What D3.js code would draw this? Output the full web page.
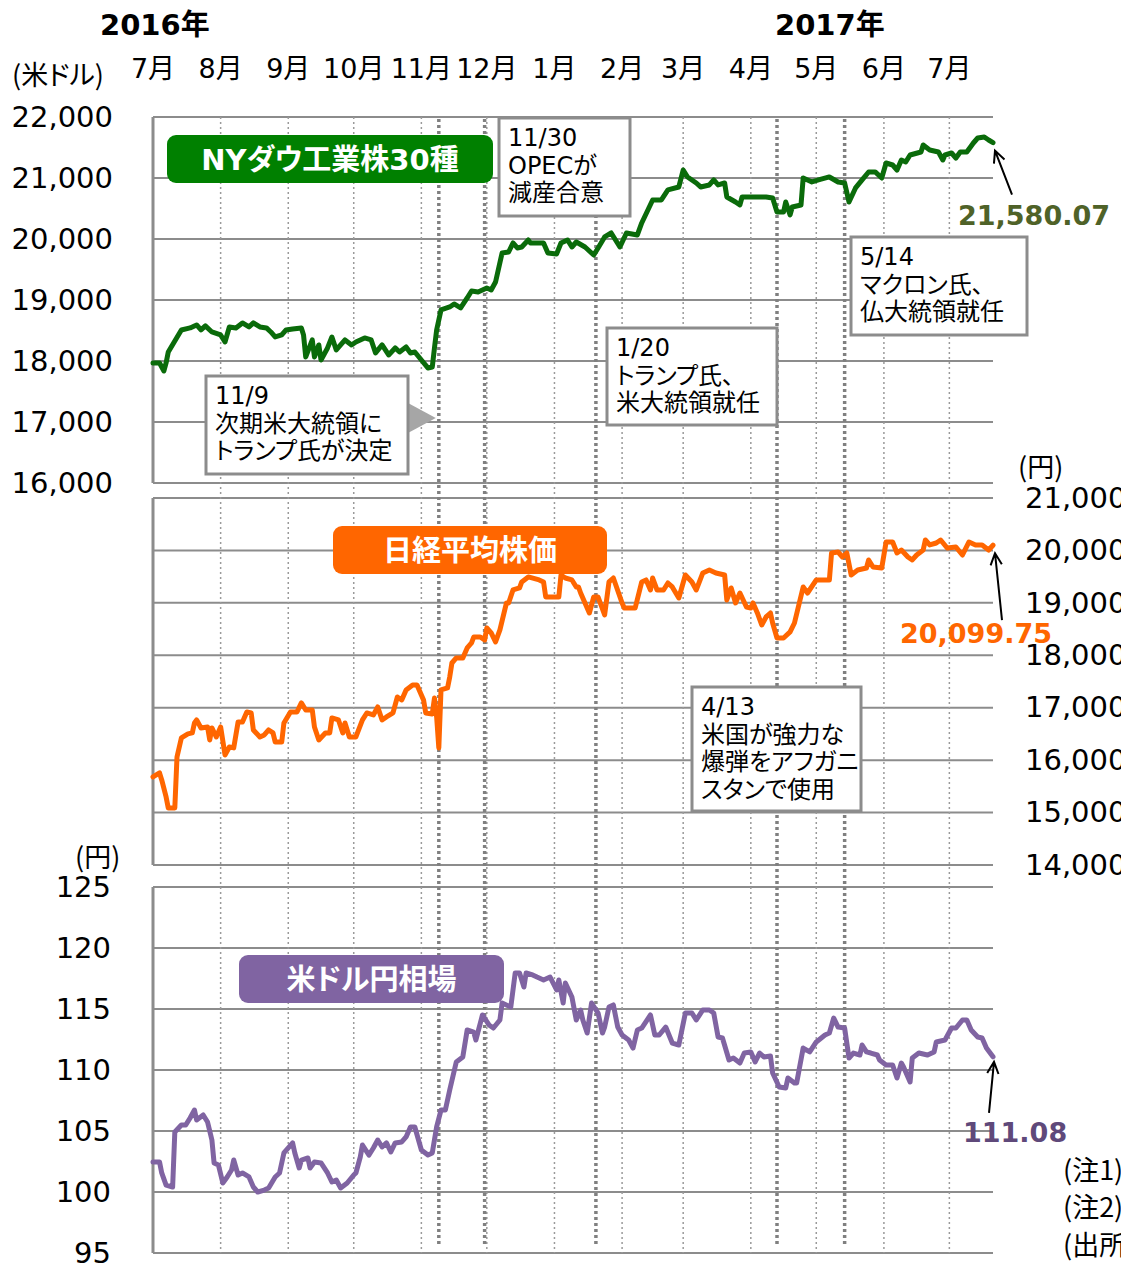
<!DOCTYPE html>
<html lang="ja">
<head>
<meta charset="utf-8" />
<title>NYダウ・日経平均・米ドル円</title>
<script src="https://d3js.org/d3.v7.min.js"></script>
<style>
  body { margin: 0; background: #fff; }
  svg text { font-family: "DejaVu Sans", "Noto Sans CJK JP", sans-serif; font-feature-settings: "palt"; }
  svg text.jp { font-family: "Noto Sans CJK JP", sans-serif; }
</style>
</head>
<body>
<script>
// month ticks on the shared time axis
const monthTicks = ["2016-07-01","2016-08-01","2016-09-01","2016-10-01","2016-11-01","2016-12-01",
  "2017-01-01","2017-02-01","2017-03-01","2017-04-01","2017-05-01","2017-06-01","2017-07-01"];
const monthLabels = ["7月","8月","9月","10月","11月","12月","1月","2月","3月","4月","5月","6月","7月"];
const yearLabels = ["2016年", "2017年"];
const eventDates = ["2016-11-09","2016-11-30","2017-01-20","2017-04-13","2017-05-14"];

const dowTicks = [16000,17000,18000,19000,20000,21000,22000];
const nikkeiTicks = [14000,15000,16000,17000,18000,19000,20000,21000];
const yenTicks = [95,100,105,110,115,120,125];

// NYダウ (米ドル)
const dowSeries = [["2016-07-01",17968],["2016-07-04",17968],["2016-07-06",17837],["2016-07-07",17968],["2016-07-08",18148],["2016-07-14",18509],["2016-07-18",18542],["2016-07-21",18591],["2016-07-23",18509],["2016-07-25",18575],["2016-07-28",18476],["2016-08-01",18427],["2016-08-03",18312],["2016-08-05",18558],["2016-08-08",18542],["2016-08-11",18624],["2016-08-14",18558],["2016-08-16",18624],["2016-08-19",18558],["2016-08-22",18542],["2016-08-24",18476],["2016-08-26",18394],["2016-08-29",18427],["2016-08-31",18509],["2016-09-03",18525],["2016-09-07",18542],["2016-09-08",18427],["2016-09-09",18066],["2016-09-12",18345],["2016-09-13",18066],["2016-09-15",18263],["2016-09-16",18017],["2016-09-19",18214],["2016-09-21",18394],["2016-09-23",18181],["2016-09-27",18345],["2016-09-30",18263],["2016-10-02",18312],["2016-10-06",18378],["2016-10-09",18345],["2016-10-11",18132],["2016-10-14",18263],["2016-10-17",18099],["2016-10-20",18214],["2016-10-22",18148],["2016-10-25",18230],["2016-10-27",18132],["2016-10-29",18148],["2016-11-01",18017],["2016-11-04",17886],["2016-11-06",17902],["2016-11-07",18214],["2016-11-08",18509],["2016-11-10",18837],["2016-11-14",18886],["2016-11-16",18935],["2016-11-19",18869],["2016-11-22",19033],["2016-11-24",19148],["2016-11-27",19132],["2016-12-01",19197],["2016-12-03",19165],["2016-12-05",19296],["2016-12-08",19771],["2016-12-11",19787],["2016-12-13",19935],["2016-12-15",19853],["2016-12-17",19869],["2016-12-20",19984],["2016-12-21",19935],["2016-12-27",19935],["2016-12-29",19771],["2017-01-02",19755],["2017-01-04",19935],["2017-01-07",19984],["2017-01-09",19869],["2017-01-11",19951],["2017-01-15",19869],["2017-01-19",19738],["2017-01-21",19853],["2017-01-24",20033],["2017-01-27",20099],["2017-01-31",19869],["2017-02-03",20099],["2017-02-08",20066],["2017-02-10",20263],["2017-02-15",20640],["2017-02-19",20640],["2017-02-22",20804],["2017-02-27",20853],["2017-03-01",21131],["2017-03-03",21017],["2017-03-07",20918],["2017-03-09",20853],["2017-03-13",20886],["2017-03-15",20968],["2017-03-17",20886],["2017-03-20",20918],["2017-03-21",20689],["2017-03-25",20607],["2017-03-27",20558],["2017-03-28",20689],["2017-04-02",20689],["2017-04-08",20689],["2017-04-11",20672],["2017-04-13",20443],["2017-04-16",20443],["2017-04-17",20607],["2017-04-19",20394],["2017-04-20",20525],["2017-04-24",20558],["2017-04-25",21000],["2017-04-29",20935],["2017-05-02",20968],["2017-05-07",21017],["2017-05-11",20935],["2017-05-14",20918],["2017-05-16",20607],["2017-05-19",20837],["2017-05-22",20968],["2017-05-25",21099],["2017-05-28",21099],["2017-05-31",21000],["2017-06-02",21246],["2017-06-05",21213],["2017-06-07",21131],["2017-06-09",21295],["2017-06-11",21262],["2017-06-13",21377],["2017-06-18",21426],["2017-06-19",21541],["2017-06-22",21459],["2017-06-26",21426],["2017-06-28",21295],["2017-06-29",21377],["2017-07-02",21410],["2017-07-04",21328],["2017-07-06",21426],["2017-07-09",21426],["2017-07-12",21574],["2017-07-14",21656],["2017-07-17",21672],["2017-07-19",21623],["2017-07-21",21580.07]];

// 日経平均株価 (円)
const nikkeiSeries = [["2016-07-01",15679],["2016-07-04",15756],["2016-07-05",15622],["2016-07-07",15298],["2016-07-08",15088],["2016-07-11",15088],["2016-07-12",16061],["2016-07-14",16423],["2016-07-17",16500],["2016-07-19",16519],["2016-07-20",16709],["2016-07-21",16767],["2016-07-23",16614],["2016-07-26",16633],["2016-07-27",16385],["2016-07-28",16614],["2016-07-30",16442],["2016-08-01",16633],["2016-08-03",16099],["2016-08-05",16252],["2016-08-07",16233],["2016-08-09",16728],["2016-08-11",16728],["2016-08-13",16919],["2016-08-15",16900],["2016-08-16",16576],["2016-08-19",16442],["2016-08-21",16480],["2016-08-23",16576],["2016-08-25",16519],["2016-08-26",16347],["2016-08-29",16347],["2016-08-30",16709],["2016-09-02",16919],["2016-09-05",16919],["2016-09-07",17091],["2016-09-09",16957],["2016-09-12",16957],["2016-09-13",16633],["2016-09-15",16385],["2016-09-18",16519],["2016-09-20",16519],["2016-09-21",16805],["2016-09-24",16767],["2016-09-26",16519],["2016-09-27",16709],["2016-09-29",16442],["2016-10-02",16442],["2016-10-05",16767],["2016-10-07",16900],["2016-10-10",16862],["2016-10-12",17014],["2016-10-14",16767],["2016-10-16",16824],["2016-10-19",16900],["2016-10-21",17205],["2016-10-23",17148],["2016-10-25",17339],["2016-10-28",17434],["2016-10-30",17434],["2016-11-02",17148],["2016-11-03",16900],["2016-11-06",16881],["2016-11-07",17186],["2016-11-08",16824],["2016-11-09",16233],["2016-11-10",17339],["2016-11-13",17377],["2016-11-14",17587],["2016-11-15",17853],["2016-11-17",17949],["2016-11-20",17949],["2016-11-22",18140],["2016-11-24",18235],["2016-11-25",18349],["2016-11-28",18349],["2016-11-30",18292],["2016-12-01",18521],["2016-12-03",18426],["2016-12-05",18254],["2016-12-07",18483],["2016-12-10",18998],["2016-12-11",18998],["2016-12-13",19246],["2016-12-16",19284],["2016-12-17",19399],["2016-12-20",19494],["2016-12-25",19437],["2016-12-27",19399],["2016-12-28",19112],["2017-01-03",19112],["2017-01-04",19532],["2017-01-06",19474],["2017-01-09",19437],["2017-01-11",19303],["2017-01-12",19303],["2017-01-13",19188],["2017-01-17",18807],["2017-01-19",19112],["2017-01-21",19112],["2017-01-24",18769],["2017-01-26",19399],["2017-01-28",19474],["2017-02-01",18998],["2017-02-02",18902],["2017-02-07",18902],["2017-02-10",19399],["2017-02-12",19437],["2017-02-14",19246],["2017-02-15",19474],["2017-02-17",19246],["2017-02-20",19246],["2017-02-22",19379],["2017-02-24",19303],["2017-02-27",19093],["2017-03-02",19532],["2017-03-05",19399],["2017-03-07",19246],["2017-03-10",19570],["2017-03-13",19627],["2017-03-16",19570],["2017-03-20",19532],["2017-03-21",19055],["2017-03-23",19284],["2017-03-25",18998],["2017-03-27",19188],["2017-03-30",18921],["2017-04-01",18902],["2017-04-02",18998],["2017-04-04",18807],["2017-04-06",18578],["2017-04-08",18731],["2017-04-10",18807],["2017-04-11",18616],["2017-04-13",18330],["2017-04-16",18330],["2017-04-19",18445],["2017-04-21",18616],["2017-04-25",19303],["2017-04-27",19188],["2017-05-01",19437],["2017-05-07",19437],["2017-05-08",19951],["2017-05-11",19970],["2017-05-13",19875],["2017-05-15",19951],["2017-05-17",19532],["2017-05-20",19627],["2017-05-24",19665],["2017-05-25",19818],["2017-05-27",19684],["2017-05-31",19665],["2017-06-02",20161],["2017-06-05",20161],["2017-06-07",19951],["2017-06-09",20008],["2017-06-12",19875],["2017-06-14",19818],["2017-06-16",19913],["2017-06-19",20008],["2017-06-20",20199],["2017-06-22",20104],["2017-06-25",20142],["2017-06-27",20199],["2017-06-30",20047],["2017-07-04",20066],["2017-07-07",19913],["2017-07-10",20161],["2017-07-13",20104],["2017-07-16",20104],["2017-07-19",20008],["2017-07-21",20099.75]];

// 米ドル円相場 (円)
const yenSeries = [["2016-07-01",102.46],["2016-07-04",102.46],["2016-07-05",101.56],["2016-07-07",100.57],["2016-07-10",100.41],["2016-07-11",104.92],["2016-07-14",105.49],["2016-07-16",105.49],["2016-07-18",106.07],["2016-07-20",106.72],["2016-07-21",105.9],["2016-07-24",106.31],["2016-07-26",105.74],["2016-07-28",104.26],["2016-07-29",102.38],["2016-07-31",102.21],["2016-08-02",100.74],["2016-08-04",101.23],["2016-08-06",101.8],["2016-08-07",102.62],["2016-08-09",101.39],["2016-08-11",101.56],["2016-08-14",101.23],["2016-08-16",100.41],["2016-08-18",100.0],["2016-08-21",100.16],["2016-08-23",100.33],["2016-08-26",101.23],["2016-08-28",101.56],["2016-08-30",103.2],["2016-09-03",104.02],["2016-09-04",103.2],["2016-09-06",101.97],["2016-09-07",102.62],["2016-09-10",102.79],["2016-09-11",101.97],["2016-09-13",102.46],["2016-09-16",102.38],["2016-09-19",101.56],["2016-09-21",100.82],["2016-09-23",100.98],["2016-09-25",100.33],["2016-09-28",100.74],["2016-10-01",101.39],["2016-10-02",101.56],["2016-10-04",102.87],["2016-10-05",103.85],["2016-10-08",103.03],["2016-10-10",103.61],["2016-10-12",104.26],["2016-10-14",103.69],["2016-10-16",104.02],["2016-10-18",103.28],["2016-10-20",104.02],["2016-10-23",104.1],["2016-10-25",104.51],["2016-10-27",105.33],["2016-10-29",105.33],["2016-11-01",103.44],["2016-11-04",103.03],["2016-11-06",103.2],["2016-11-08",105.33],["2016-11-10",106.72],["2016-11-12",106.72],["2016-11-14",108.36],["2016-11-17",110.66],["2016-11-20",111.07],["2016-11-22",113.28],["2016-11-25",113.11],["2016-11-26",112.46],["2016-11-29",114.51],["2016-12-02",113.69],["2016-12-04",113.44],["2016-12-07",114.1],["2016-12-08",115.49],["2016-12-12",115.16],["2016-12-14",117.95],["2016-12-16",117.95],["2016-12-18",116.8],["2016-12-19",117.95],["2016-12-22",117.79],["2016-12-24",117.62],["2016-12-27",117.38],["2016-12-30",117.62],["2017-01-02",116.56],["2017-01-03",117.38],["2017-01-05",115.49],["2017-01-06",117.13],["2017-01-09",115.98],["2017-01-11",114.1],["2017-01-13",114.92],["2017-01-14",114.1],["2017-01-16",113.03],["2017-01-18",115.49],["2017-01-21",114.67],["2017-01-23",113.03],["2017-01-24",113.52],["2017-01-26",115.16],["2017-01-28",115.33],["2017-01-30",113.52],["2017-02-01",112.87],["2017-02-04",112.46],["2017-02-06",111.8],["2017-02-08",113.28],["2017-02-10",113.44],["2017-02-14",114.51],["2017-02-16",112.87],["2017-02-18",112.87],["2017-02-21",113.52],["2017-02-24",112.21],["2017-02-27",112.05],["2017-03-02",114.67],["2017-03-05",114.67],["2017-03-07",114.1],["2017-03-10",114.92],["2017-03-13",114.92],["2017-03-15",114.67],["2017-03-17",112.7],["2017-03-19",112.62],["2017-03-22",110.82],["2017-03-24",110.98],["2017-03-27",110.57],["2017-03-29",111.39],["2017-04-01",111.48],["2017-04-03",110.66],["2017-04-05",111.39],["2017-04-07",111.07],["2017-04-10",111.15],["2017-04-11",109.75],["2017-04-14",108.61],["2017-04-17",108.52],["2017-04-18",109.34],["2017-04-21",108.93],["2017-04-22",108.93],["2017-04-25",111.8],["2017-04-28",111.48],["2017-05-01",112.3],["2017-05-05",112.87],["2017-05-07",113.03],["2017-05-09",114.26],["2017-05-11",113.52],["2017-05-14",113.44],["2017-05-16",110.98],["2017-05-18",111.39],["2017-05-21",111.23],["2017-05-22",112.05],["2017-05-24",111.48],["2017-05-26",111.39],["2017-05-29",111.23],["2017-05-30",110.82],["2017-06-02",110.41],["2017-06-05",110.41],["2017-06-07",109.34],["2017-06-09",110.57],["2017-06-10",110.25],["2017-06-13",109.02],["2017-06-14",110.98],["2017-06-17",111.39],["2017-06-21",111.23],["2017-06-24",111.48],["2017-06-25",112.3],["2017-06-29",112.46],["2017-07-02",113.44],["2017-07-04",113.44],["2017-07-07",114.1],["2017-07-09",114.1],["2017-07-11",113.28],["2017-07-14",112.7],["2017-07-16",112.62],["2017-07-18",111.8],["2017-07-21",111.08]];

const notes = ["(注1) データは2016年7月1日～2017年7月21日。",
  "(注2) 直近値は2017年7月21日。",
  "(出所) Bloombergのデータを基に作成"];

// layout
const W = 1121, H = 1268;
const X0 = 153, X1 = 993;
const GRID = "#8c8c8c";
const DOW_COLOR = "#0a6b0a", DOW_BOX = "#008000", DOW_TEXT = "#4f6228";
const NK_COLOR = "#ff6600";
const FX_COLOR = "#8064a2", FX_TEXT = "#5f497a";

const parse = d3.timeParse("%Y-%m-%d");
const x = d3.scaleTime().domain([parse("2016-07-01"), parse("2017-07-21")]).range([X0, X1]);
const yDow = d3.scaleLinear().domain([16000, 22000]).range([483, 117]);
const yNk = d3.scaleLinear().domain([14000, 21000]).range([865, 498]);
const yFx = d3.scaleLinear().domain([95, 125]).range([1253, 887]);

const svg = d3.select("body").append("svg")
  .attr("width", W).attr("height", H)
  .attr("viewBox", [0, 0, W, H]);
svg.append("rect").attr("width", W).attr("height", H).attr("fill", "#fff");

// horizontal gridlines + left border per panel
function panelGrid(y, ticks) {
  const g = svg.append("g");
  g.selectAll("line").data(ticks).join("line")
    .attr("x1", X0).attr("x2", X1)
    .attr("y1", d => y(d)).attr("y2", d => y(d))
    .attr("stroke", GRID).attr("stroke-width", 2);
  g.append("line")
    .attr("x1", X0).attr("x2", X0)
    .attr("y1", y.range()[1]).attr("y2", y.range()[0])
    .attr("stroke", GRID).attr("stroke-width", 3);
}
panelGrid(yDow, dowTicks);
panelGrid(yNk, nikkeiTicks);
panelGrid(yFx, yenTicks);

// month lines (dotted) through all panels
svg.append("g").selectAll("line").data(monthTicks.slice(1)).join("line")
  .attr("x1", d => x(parse(d))).attr("x2", d => x(parse(d)))
  .attr("y1", 117).attr("y2", 1253)
  .attr("stroke", "#9a9a9a").attr("stroke-width", 1.5)
  .attr("stroke-dasharray", "2,3");

// event lines (thick dashes)
svg.append("g").selectAll("line").data(eventDates).join("line")
  .attr("x1", d => x(parse(d))).attr("x2", d => x(parse(d)))
  .attr("y1", 119).attr("y2", 1245)
  .attr("stroke", "#808080").attr("stroke-width", 3.5)
  .attr("stroke-dasharray", "3,3");

// series lines
function drawSeries(data, y, color) {
  const line = d3.line().x(d => x(parse(d[0]))).y(d => y(d[1]));
  svg.append("path").datum(data)
    .attr("d", line)
    .attr("fill", "none")
    .attr("stroke", color)
    .attr("stroke-width", 5)
    .attr("stroke-linejoin", "round")
    .attr("stroke-linecap", "round");
}
drawSeries(dowSeries, yDow, DOW_COLOR);
drawSeries(nikkeiSeries, yNk, NK_COLOR);
drawSeries(yenSeries, yFx, FX_COLOR);

// axes labels
const fmt = d3.format(",");
function axisLabels(axis, tx) {
  const g = svg.append("g").attr("transform", `translate(${tx},0)`).call(axis);
  g.select(".domain").remove();
  g.selectAll(".tick line").remove();
  g.attr("font-family", null).attr("font-size", null);
  g.selectAll("text").attr("font-size", 29).attr("fill", "#000");
}
axisLabels(d3.axisLeft(yDow).tickValues(dowTicks).tickFormat(fmt).tickSize(0).tickPadding(0), 113);
axisLabels(d3.axisRight(yNk).tickValues(nikkeiTicks).tickFormat(fmt).tickSize(0).tickPadding(0), 1025);
axisLabels(d3.axisLeft(yFx).tickValues(yenTicks).tickFormat(d3.format("d")).tickSize(0).tickPadding(0), 111);

// month labels + years
svg.append("g").selectAll("text").data(monthTicks).join("text")
  .attr("x", d => x(parse(d))).attr("y", 68)
  .attr("text-anchor", "middle").attr("dominant-baseline", "central")
  .attr("font-size", 27)
  .text((d, i) => monthLabels[i]);
svg.append("g").selectAll("text").data(yearLabels).join("text")
  .attr("x", (d, i) => [100, 775][i]).attr("y", 25)
  .attr("dominant-baseline", "central")
  .attr("font-size", 29).attr("font-weight", "bold")
  .text(d => d);

// unit labels
const units = [["(米ドル)", 12, 73], ["(円)", 1018, 465], ["(円)", 75, 855]];
svg.append("g").selectAll("text").data(units).join("text")
  .attr("class", "jp")
  .attr("x", d => d[1]).attr("y", d => d[2])
  .attr("dominant-baseline", "central").attr("font-size", 27)
  .text(d => d[0]);

// notes (run off the right edge)
svg.append("g").selectAll("text").data(notes).join("text")
  .attr("class", "jp")
  .attr("x", 1063).attr("y", (d, i) => 1168 + i * 37.5)
  .attr("dominant-baseline", "central").attr("font-size", 27)
  .text(d => d);

// series name boxes
const nameBoxes = [
  { text: "NYダウ工業株30種", x: 167, y: 135, w: 326, h: 48, fill: DOW_BOX },
  { text: "日経平均株価", x: 333, y: 526, w: 274, h: 48, fill: NK_COLOR },
  { text: "米ドル円相場", x: 239, y: 955, w: 265, h: 48, fill: FX_COLOR }
];
const nb = svg.append("g").selectAll("g").data(nameBoxes).join("g");
nb.append("rect")
  .attr("x", d => d.x).attr("y", d => d.y).attr("width", d => d.w).attr("height", d => d.h)
  .attr("rx", 9).attr("fill", d => d.fill);
nb.append("text")
  .attr("x", d => d.x + d.w / 2).attr("y", d => d.y + d.h / 2 + 1)
  .attr("text-anchor", "middle").attr("dominant-baseline", "central")
  .attr("font-size", 29).attr("font-weight", "bold").attr("fill", "#fff")
  .text(d => d.text);

// 11/9 pointer triangle
const tip = x(parse("2016-11-09")) - 3;
svg.append("path")
  .attr("d", `M408,403 L${tip},418 L408,433 Z`)
  .attr("fill", "#a6a6a6");

// event callouts
const callouts = [
  { x: 499, y: 118, w: 131, h: 98, lines: ["11/30", "OPECが", "減産合意"] },
  { x: 206, y: 376, w: 202, h: 98, lines: ["11/9", "次期米大統領に", "トランプ氏が決定"] },
  { x: 607, y: 328, w: 170, h: 97, lines: ["1/20", "トランプ氏、", "米大統領就任"] },
  { x: 851, y: 237, w: 176, h: 98, lines: ["5/14", "マクロン氏、", "仏大統領就任"] },
  { x: 692, y: 687, w: 169, h: 124, lines: ["4/13", "米国が強力な", "爆弾をアフガニ", "スタンで使用"] }
];
const cg = svg.append("g").selectAll("g").data(callouts).join("g");
cg.append("rect")
  .attr("x", d => d.x).attr("y", d => d.y).attr("width", d => d.w).attr("height", d => d.h)
  .attr("fill", "#fff").attr("stroke", GRID).attr("stroke-width", 3);
cg.each(function (d) {
  d3.select(this).selectAll("text").data(d.lines).join("text")
    .attr("x", d.x + 9).attr("y", (t, i) => d.y + 20 + i * 27.5)
    .attr("dominant-baseline", "central").attr("font-size", 24)
    .text(t => t);
});

// latest values with arrows
function lastLabel(data, y, color, tipOff, tailOff, textX, textY) {
  const last = data[data.length - 1];
  const px = x(parse(last[0])), py = y(last[1]);
  const tx = px + tipOff[0], ty = py + tipOff[1];
  const sx = px + tailOff[0], sy = py + tailOff[1];
  const a = Math.atan2(ty - sy, tx - sx), L = 13, s = 0.45;
  const path = `M${sx},${sy} L${tx},${ty} M${tx - L * Math.cos(a - s)},${ty - L * Math.sin(a - s)} L${tx},${ty} L${tx - L * Math.cos(a + s)},${ty - L * Math.sin(a + s)}`;
  svg.append("path").attr("d", path).attr("fill", "none")
    .attr("stroke", "#000").attr("stroke-width", 2);
  svg.append("text")
    .attr("x", textX).attr("y", textY)
    .attr("dominant-baseline", "central")
    .attr("font-size", 27).attr("font-weight", "bold").attr("fill", color)
    .text(d3.format(",.2f")(last[1]));
}
lastLabel(dowSeries, yDow, DOW_TEXT, [2, 8], [19, 52], 958, 215);
lastLabel(nikkeiSeries, yNk, NK_COLOR, [2, 8], [9, 75], 900, 633);
lastLabel(yenSeries, yFx, FX_TEXT, [1, 5], [-4, 56], 963, 1132);
</script>
</body>
</html>
